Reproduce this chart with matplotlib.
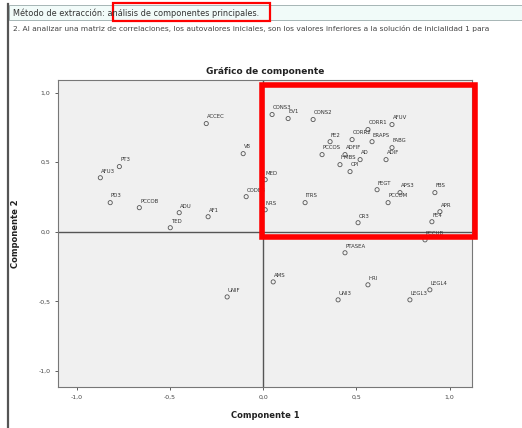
import matplotlib
matplotlib.use("Agg")
import matplotlib.pyplot as plt
from matplotlib.patches import Rectangle
from matplotlib.lines import Line2D

# component loadings
labels = ["ACCEC", "V8", "PT3", "AFU3", "PD3", "PCCOB", "ADU", "AF1", "CODEB", "TED",
          "UNIF", "CONS3", "EV1", "CONS2", "CORR1", "AFUV", "FE2", "CORR2", "ERAPS",
          "PCCOS", "ADFIF", "FABG", "HMBS", "AD", "ADIF", "CPI", "MED", "NRS", "FEGT",
          "APS3", "PCCOM", "FBS", "APR", "FE4", "ITRS", "CR3", "PTASEA", "PCCUB",
          "AMS", "HRI", "UNI3", "LEGL4", "LEGL3"]
comp1 = [-0.305, -0.107, -0.771, -0.873, -0.820, -0.664, -0.450, -0.295, -0.091, -0.498,
         -0.193, 0.048, 0.134, 0.268, 0.562, 0.691, 0.359, 0.477, 0.584,
         0.316, 0.439, 0.691, 0.412, 0.520, 0.659, 0.466, 0.011, 0.011, 0.611,
         0.734, 0.670, 0.921, 0.948, 0.905, 0.225, 0.509, 0.439, 0.868,
         0.054, 0.562, 0.402, 0.894, 0.787]
comp2 = [0.777, 0.561, 0.468, 0.388, 0.209, 0.173, 0.137, 0.108, 0.252, 0.029,
         -0.468, 0.842, 0.813, 0.806, 0.734, 0.770, 0.647, 0.662, 0.647,
         0.554, 0.554, 0.604, 0.482, 0.518, 0.518, 0.432, 0.374, 0.158, 0.302,
         0.281, 0.209, 0.281, 0.144, 0.072, 0.209, 0.065, -0.151, -0.058,
         -0.360, -0.381, -0.489, -0.417, -0.489]
ticks = [-1.0, -0.5, 0.0, 0.5, 1.0]
tick_labels = ["-1,0", "-0,5", "0,0", "0,5", "1,0"]

W, H = 522, 428
fig = plt.figure(figsize=(W / 100, H / 100), dpi=100)
fig.patch.set_facecolor("white")

def box(x0, y0, x1, y1, **kw):
    # rectangle given in screenshot pixels (y downwards)
    r = Rectangle((x0 / W, 1 - y1 / H), (x1 - x0) / W, (y1 - y0) / H,
                  transform=fig.transFigure, **kw)
    fig.add_artist(r)

# screenshot frame and header strip
box(9, 5, 522, 20, facecolor="#f1fbf9", edgecolor="#9aa", lw=0.6)
fig.add_artist(Line2D([8 / W, 8 / W], [0, 1 - 4 / H], transform=fig.transFigure,
                      color="#555", lw=1.6))
fig.text(13 / W, 1 - 13 / H, "Método de extracción: análisis de componentes principales.",
         fontsize=5.9, color="#333", va="center")
fig.text(13 / W, 1 - 28 / H,
         "2. Al analizar una matriz de correlaciones, los autovalores iniciales, son los valores "
         "inferiores a la solución de inicialidad 1 para",
         fontsize=5.4, color="#444", va="center")

ax = fig.add_axes([58 / W, 1 - 387 / H, (472 - 58) / W, (387 - 80) / H])
ax.set_facecolor("#f0f0f0")
ax.set_xlim(-1.10, 1.12)
ax.set_ylim(-1.115, 1.09)
ax.axhline(0, color="#555", lw=1.0)
ax.axvline(0, color="#555", lw=1.0)

ax.scatter(comp1, comp2, s=9, facecolors="none", edgecolors="#555", linewidths=0.6, zorder=3)
for lab, x, y in zip(labels, comp1, comp2):
    ax.annotate(lab, (x, y), xytext=(0.5, 3), textcoords="offset points",
                fontsize=3.9, color="#333", ha="left", va="bottom")

ax.set_xticks(ticks)
ax.set_xticklabels(tick_labels)
ax.set_yticks(ticks)
ax.set_yticklabels(tick_labels)
ax.tick_params(labelsize=4.5, colors="#444", length=2, width=0.6)
for s in ax.spines.values():
    s.set_color("#777")
    s.set_linewidth(0.8)

ax.set_title("Gráfico de componente", fontsize=6.5, fontweight="bold", color="#222", pad=4)
ax.set_xlabel("Componente 1", fontsize=6, fontweight="bold", color="#222", labelpad=8)
ax.set_ylabel("Componente 2", fontsize=6, fontweight="bold", color="#222", labelpad=13)

# red highlight boxes
box(113, 3, 270, 21, facecolor="none", edgecolor="red", lw=1.6)
box(262, 85, 475, 237, facecolor="none", edgecolor="red", lw=4.0)

fig.savefig("out.png", dpi=100)
